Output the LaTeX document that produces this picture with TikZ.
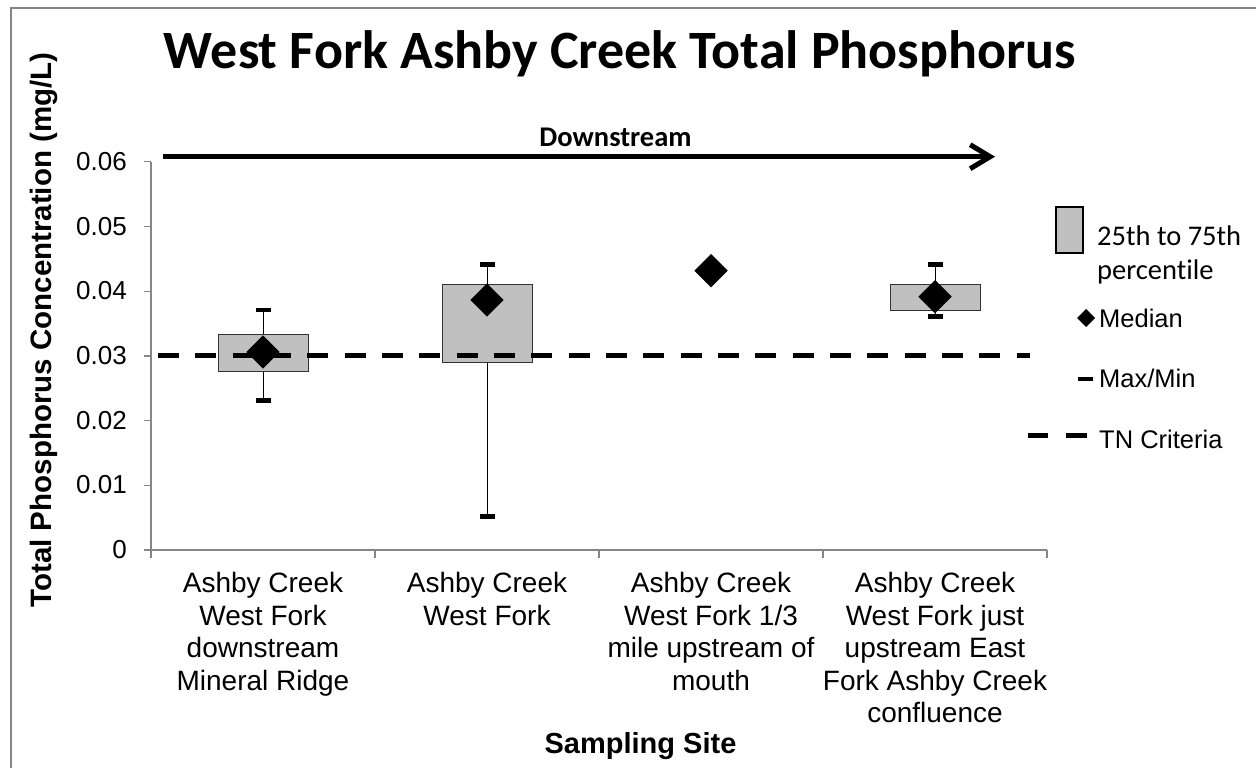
\documentclass[tikz,border=0pt]{standalone}
\usepackage{fontspec}
\setmainfont{Liberation Sans}
\newfontfamily\calibri[Ligatures=NoCommon]{Carlito}
\usetikzlibrary{arrows.meta}
\definecolor{boxgray}{HTML}{C0C0C0}
\definecolor{axisgray}{HTML}{868686}
\tikzset{
  axisline/.style={draw=axisgray, line width=1.4pt},
  iqrbox/.style={fill=boxgray, draw=black!80, line width=1pt},
  whisker/.style={draw=black, line width=1pt},
  capbar/.style={draw=black, line width=4.5pt},
  median/.style={fill=black, draw=none},
  tncrit/.style={draw=black, line width=5pt, dash pattern=on 21pt off 16.33pt},
  ticklab/.style={font=\fontsize{26}{30}\selectfont, anchor=base east, inner sep=0pt},
  sitelab/.style={font=\fontsize{28}{32.5}\selectfont, align=center, anchor=north, inner sep=0pt},
  legtext/.style={font=\fontsize{25.5}{30}\selectfont, anchor=base west, inner sep=0pt},
}
\begin{document}
\begin{tikzpicture}[x=1pt,y=-1pt]
\useasboundingbox (0,0) rectangle (1256,768);
% outer frame
\draw[draw=axisgray, line width=1.4pt] (11,8) rectangle (1300,820);
% title
\node[font=\calibri\bfseries\fontsize{54}{60}\selectfont, anchor=base, inner sep=0pt] (title) at (620,69) {West Fork Ashby Creek Total Phosphorus};
% axes
\coordinate (o) at (151,550);
\coordinate (ytop) at (151,161.7);
\coordinate (xend) at (1047,550);
\draw[axisline] (ytop) -- (o) -- (xend);
\foreach \yy/\lab in {550/0, 485.3/0.01, 420.6/0.02, 355.9/0.03, 291.2/0.04, 226.5/0.05, 161.7/0.06} {
  \draw[axisline] (144,\yy) -- (151,\yy);
  \node[ticklab] (t\lab) at (127,\yy+8.5) {\lab};
}
\foreach \xx in {151,375,599,823,1047} {
  \draw[axisline] (\xx,550) -- (\xx,558);
}
% axis titles
\node[font=\bfseries\fontsize{29.5}{32}\selectfont, rotate=90, anchor=base, inner sep=0pt] (ylab) at (51,330) {Total Phosphorus Concentration (mg/L)};
\node[font=\bfseries\fontsize{29}{32}\selectfont, anchor=base, inner sep=0pt] (xlab) at (640.5,753) {Sampling Site};
% category labels
\node[sitelab] (s1) at (263,572.5) {Ashby Creek\\West Fork\\downstream\\Mineral Ridge};
\node[sitelab] (s2) at (487,572.5) {Ashby Creek\\West Fork};
\node[sitelab] (s3) at (711,572.5) {Ashby Creek\\West Fork 1/3\\mile upstream of\\mouth};
\node[sitelab] (s4) at (935,572.5) {Ashby Creek\\West Fork just\\upstream East\\Fork Ashby Creek\\confluence};
% downstream arrow
\coordinate (arrS) at (163,156.7);
\coordinate (arrE) at (995,156.7);
\draw[line width=5pt, -{Straight Barb[length=20pt,width=24pt,line width=5pt]}] (arrS) -- (arrE);
\node[font=\calibri\bfseries\fontsize{28.5}{30}\selectfont, anchor=base, inner sep=0pt] (down) at (615.5,146) {Downstream};
% whiskers
\draw[whisker] (263,310) -- (263,400.7);
\draw[whisker] (487,264.3) -- (487,516.7);
\draw[whisker] (935,264.3) -- (935,316.3);
% boxes
\draw[iqrbox] (218,334.3) rectangle (308,371.7);
\draw[iqrbox] (442,284) rectangle (532,362);
\draw[iqrbox] (890,284) rectangle (980,310);
% criteria line
\coordinate (tnS) at (158,355.5);
\coordinate (tnE) at (1030,355.5);
\draw[tncrit] (tnS) -- (tnE);
% caps
\foreach \xx/\ya/\yb in {263/310/400.7, 487/264.3/516.7, 935/264.3/316.3} {
  \draw[capbar] (\xx-7.5,\ya) -- (\xx+7.5,\ya);
  \draw[capbar] (\xx-7.5,\yb) -- (\xx+7.5,\yb);
}
% medians
\foreach \xx/\yy in {263/352, 487/300, 711/270.7, 935/296.7} {
  \fill[median] (\xx-16.7,\yy) -- (\xx,\yy-16.7) -- (\xx+16.7,\yy) -- (\xx,\yy+16.7) -- cycle;
}
% legend
\draw[fill=boxgray, draw=black, line width=2pt] (1056,207) rectangle (1083,253);
\node[font=\calibri\fontsize{28.5}{34}\selectfont, anchor=base west, inner sep=0pt] (l1a) at (1097,245) {25th to 75th};
\node[font=\calibri\fontsize{28.5}{34}\selectfont, anchor=base west, inner sep=0pt] (l1b) at (1097,279) {percentile};
\fill[median] (1077,318) -- (1086,309) -- (1095,318) -- (1086,327) -- cycle;
\node[legtext] (l2) at (1099,327) {Median};
\draw[capbar] (1078,379) -- (1093,379);
\node[legtext] (l3) at (1099,387) {Max/Min};
\draw[line width=5pt] (1028,435.7) -- (1048,435.7);
\draw[line width=5pt] (1066,435.7) -- (1087,435.7);
\node[legtext] (l4) at (1099,448) {TN Criteria};
\end{tikzpicture}
\end{document}
